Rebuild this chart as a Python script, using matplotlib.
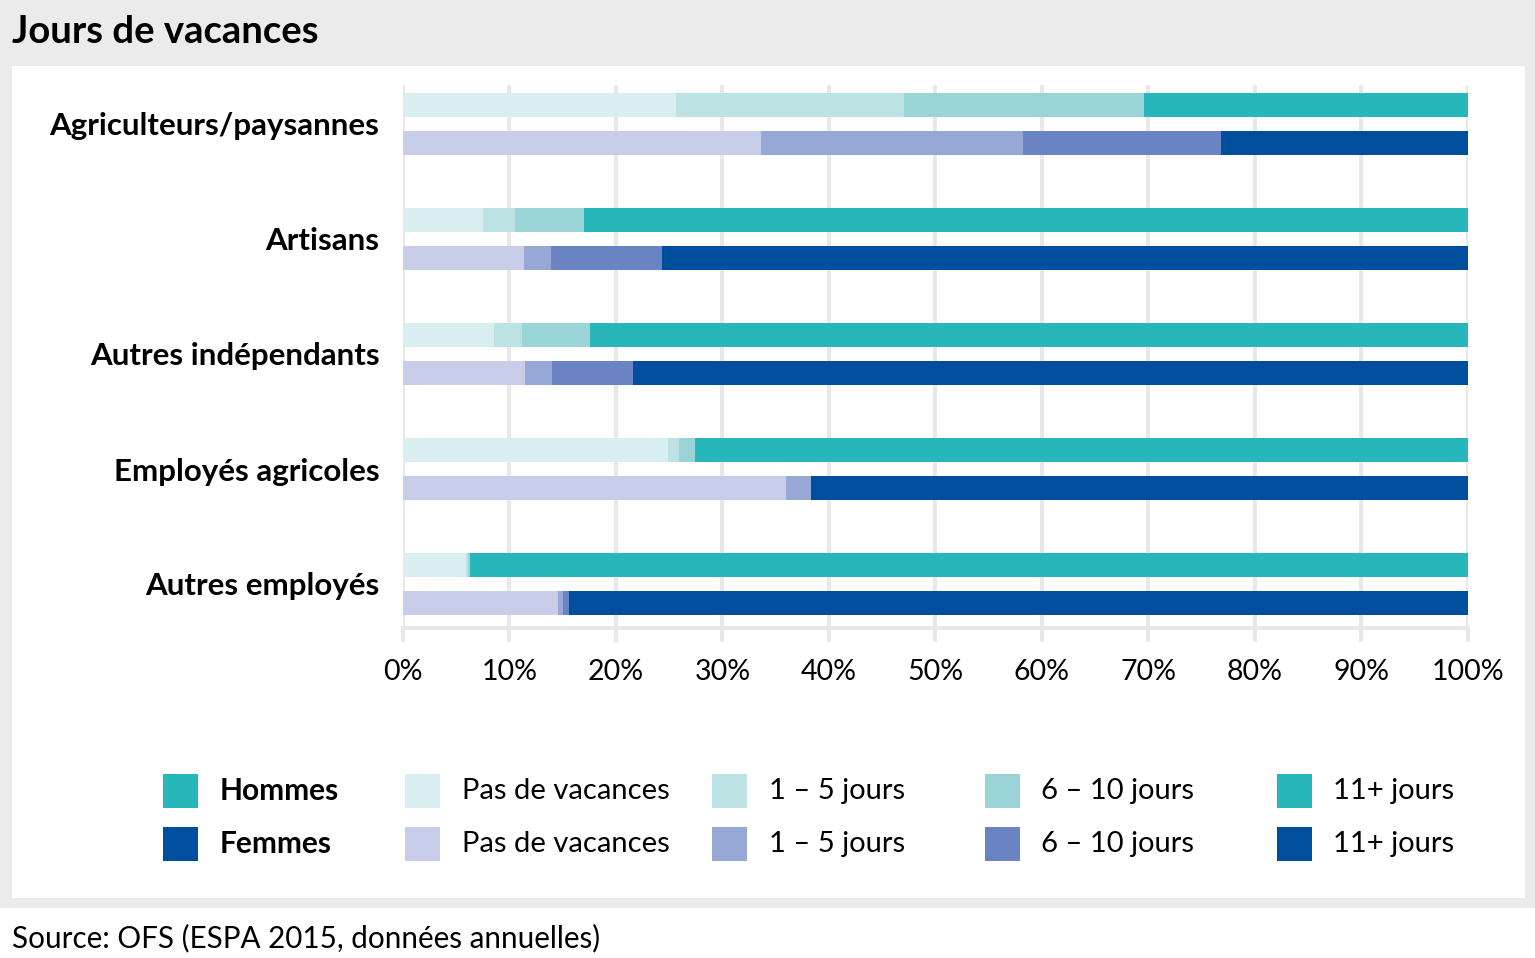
import numpy as np
import matplotlib
matplotlib.use("Agg")
import matplotlib.pyplot as plt
from matplotlib.patches import Rectangle

plt.rcParams['font.family'] = ['Lato', 'DejaVu Sans']

categories = ['Agriculteurs/paysannes', 'Artisans', 'Autres indépendants',
              'Employés agricoles', 'Autres employés']
segments = ['Pas de vacances', '1 – 5 jours', '6 – 10 jours', '11+ jours']

# shares in %, per category: [pas de vacances, 1-5, 6-10, 11+]
hommes = np.array([
    [25.6, 21.4, 22.6, 30.4],
    [7.5, 3.0, 6.5, 83.0],
    [8.5, 2.7, 6.4, 82.4],
    [24.9, 1.0, 1.5, 72.6],
    [5.9, 0.2, 0.2, 93.7],
])
femmes = np.array([
    [33.6, 24.6, 18.6, 23.2],
    [11.4, 2.5, 10.4, 75.7],
    [11.5, 2.5, 7.6, 78.4],
    [36.0, 2.3, 0.0, 61.7],
    [14.6, 0.4, 0.6, 84.4],
])
ticks = [0, 10, 20, 30, 40, 50, 60, 70, 80, 90, 100]

col_h = ['#d9eef0', '#bce2e3', '#9bd4d6', '#27b7bb']
col_f = ['#c8cde9', '#98a8d6', '#6a84c3', '#004f9f']

W, H = 1535, 958
fig = plt.figure(figsize=(W / 100, H / 100), dpi=100)
fig.patch.set_facecolor('white')

# gray frame + white panel
fig.patches.append(Rectangle((0, 1 - 908 / H), 1, 908 / H, transform=fig.transFigure,
                             facecolor='#ebebeb', edgecolor='none', zorder=-10))
fig.patches.append(Rectangle((12 / W, 1 - 898 / H), (1525 - 12) / W, (898 - 66) / H,
                             transform=fig.transFigure, facecolor='white',
                             edgecolor='none', zorder=-9))

fig.text(12 / W, 1 - 32 / H, 'Jours de vacances', fontsize=27.5, fontweight='bold',
         va='center', ha='left')
fig.text(12 / W, 1 - 938 / H, 'Source: OFS (ESPA 2015, données annuelles)',
         fontsize=21.3, va='center', ha='left')

ax_top, ax_bot = 85, 628
ax = fig.add_axes([403 / W, 1 - ax_bot / H, (1468 - 403) / W, (ax_bot - ax_top) / H])
ax.set_facecolor('none')

n = len(categories)
y = np.arange(n)
off = 0.165
bh = 0.21
for k in range(4):
    left_h = hommes[:, :k].sum(axis=1)
    left_f = femmes[:, :k].sum(axis=1)
    ax.barh(y - off, hommes[:, k], left=left_h, height=bh, color=col_h[k],
            linewidth=0, zorder=3)
    ax.barh(y + off, femmes[:, k], left=left_f, height=bh, color=col_f[k],
            linewidth=0, zorder=3)

ax.set_xlim(0, 100)
ax.set_ylim((ax_bot - 124) / 115, (ax_top - 124) / 115)
ax.set_xticks(ticks)
ax.set_xticklabels([f'{t}%' for t in ticks], fontsize=20.5)
ax.set_yticks(y)
ax.set_yticklabels(categories, fontsize=22.5, fontweight='bold')
ax.tick_params(axis='y', length=0, pad=17)
ax.tick_params(axis='x', length=10, width=3, color='#e8e8e8', pad=12)
ax.grid(axis='x', color='#e8e8e8', linewidth=3, zorder=0)
for s in ['top', 'right', 'left']:
    ax.spines[s].set_visible(False)
ax.spines['bottom'].set_color('#e8e8e8')
ax.spines['bottom'].set_linewidth(3)

# legend
rows = [(791, 'Hommes', col_h), (844, 'Femmes', col_f)]
col_x = [(405, 462), (712, 769), (985, 1041), (1277, 1333)]
for yc, name, cols in rows:
    fig.patches.append(Rectangle((163 / W, 1 - (yc + 17) / H), 35 / W, 34 / H,
                                 transform=fig.transFigure, facecolor=cols[3],
                                 edgecolor='none'))
    fig.text(220 / W, 1 - yc / H, name, fontsize=21.5, fontweight='bold',
             va='center', ha='left')
    for k, (sx, tx) in enumerate(col_x):
        fig.patches.append(Rectangle((sx / W, 1 - (yc + 17) / H), 35 / W, 34 / H,
                                     transform=fig.transFigure, facecolor=cols[k],
                                     edgecolor='none'))
        fig.text(tx / W, 1 - yc / H, segments[k], fontsize=21,
                 va='center', ha='left')

fig.savefig('out.png', dpi=100)
